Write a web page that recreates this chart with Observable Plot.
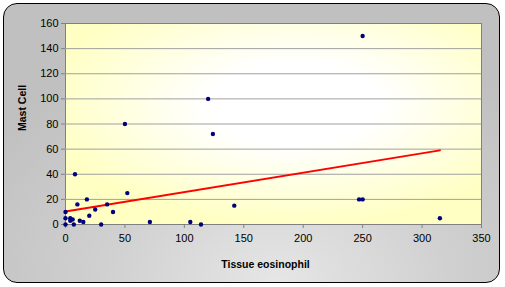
<!DOCTYPE html>
<html>
<head>
<meta charset="utf-8">
<script src="https://cdn.jsdelivr.net/npm/d3@7"></script>
<script src="https://cdn.jsdelivr.net/npm/@observablehq/plot@0.6"></script>
<style>
  html, body { margin: 0; padding: 0; background: #fff; }
  #wrap { position: relative; width: 505px; height: 287px; }
  #frame {
    position: absolute; left: 3px; top: 3px; width: 495px; height: 278px;
    border: 1.5px solid #000; border-radius: 14px;
    background: radial-gradient(ellipse 70% 90% at 55% 100%, #e6e6e6 0%, #d0d0d0 50%, #c0c0c0 100%);
  }
  #chart { position: absolute; left: 0; top: 0; }
</style>
</head>
<body>
<div id="wrap"><div id="frame"></div><div id="chart"></div></div>
<script>
const tissueEosinophil = [0, 0, 0, 4, 4, 6, 7, 8, 10, 12, 15, 18, 20, 25, 30, 35, 40, 50, 52, 71, 105, 114, 120, 124, 142, 247, 250, 250, 315];
const mastCell        = [10, 5, 0, 5, 3, 4, 0, 40, 16, 3, 2, 20, 7, 12, 0, 16, 10, 80, 25, 2, 2, 0, 100, 72, 15, 20, 20, 150, 5];
const xTicks = [0, 50, 100, 150, 200, 250, 300, 350];
const yTicks = [0, 20, 40, 60, 80, 100, 120, 140, 160];
const trendX = [0, 315];
const trendY = [10.3, 59];

const points = tissueEosinophil.map((x, i) => ({x, y: mastCell[i]}));
const trend = trendX.map((x, i) => ({x, y: trendY[i]}));

const svg = Plot.plot({
  width: 505, height: 287,
  marginLeft: 65, marginRight: 24, marginTop: 23, marginBottom: 63,
  style: {background: "transparent", fontFamily: "Arial, 'Liberation Sans', sans-serif", fontSize: "11px", color: "#000"},
  x: {domain: [0, 350], ticks: xTicks, label: null},
  y: {domain: [0, 160], ticks: yTicks, label: null},
  marks: [
    Plot.frame({fill: "url(#plotbg)", stroke: "#808080"}),
    Plot.ruleY(yTicks.filter(d => d > 0 && d < 160), {stroke: "#a0a0a0", strokeWidth: 1}),
    Plot.axisY({ticks: yTicks, tickSize: 4, tickPadding: 3, stroke: "#808080", fill: "#000", label: null}),
    Plot.axisX({ticks: xTicks, tickSize: 4, tickPadding: 6, stroke: "#808080", fill: "#000", label: null}),
    Plot.line(trend, {x: "x", y: "y", stroke: "#ff0000", strokeWidth: 2}),
    Plot.dot(points, {x: "x", y: "y", r: 2.2, fill: "#000080", stroke: "none"}),
    Plot.text(["Tissue eosinophil"], {frameAnchor: "bottom", dy: 43, dx: -8, fontWeight: "bold", fontSize: 10.5, fill: "#000", textAnchor: "middle"}),
    Plot.text(["Mast Cell"], {frameAnchor: "left", dx: -43, dy: -16, rotate: -90, textAnchor: "middle", fontWeight: "bold", fontSize: 10.5, fill: "#000"})
  ]
});

const ns = "http://www.w3.org/2000/svg";
const defs = document.createElementNS(ns, "defs");
defs.innerHTML = `<radialGradient id="plotbg" gradientUnits="objectBoundingBox" cx="0.55" cy="0.4" r="0.6" fx="0.55" fy="0.4">
  <stop offset="0" stop-color="#ffffff"/>
  <stop offset="0.35" stop-color="#ffffff"/>
  <stop offset="1" stop-color="#ffffc4"/>
</radialGradient>`;
svg.insertBefore(defs, svg.firstChild);
document.getElementById("chart").appendChild(svg);
</script>
</body>
</html>
